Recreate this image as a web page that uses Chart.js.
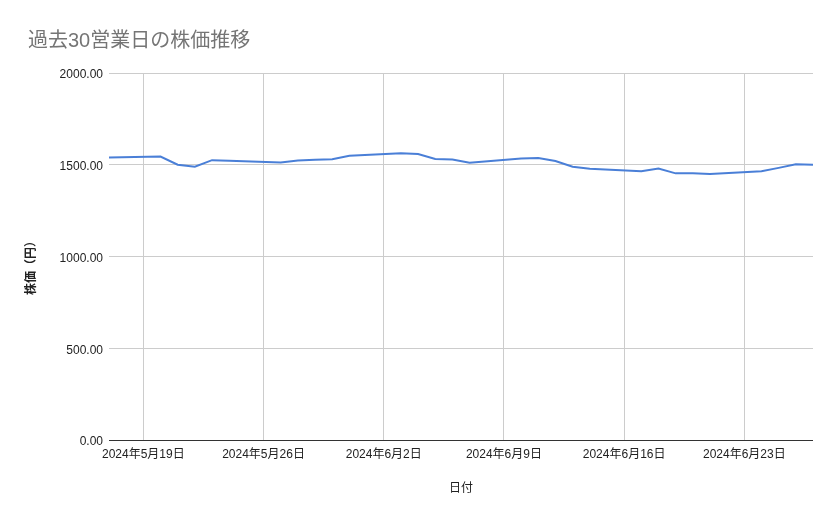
<!DOCTYPE html>
<html><head><meta charset="utf-8">
<script src="https://cdn.jsdelivr.net/npm/chart.js@4"></script>
<style>html,body{margin:0;padding:0;background:#fff;}#wrap{width:839px;height:519px;position:relative;}</style>
</head><body><div id="wrap"><canvas id="c"></canvas></div>
<script>
const chartTitle = "過去30営業日の株価推移";
const xTitle = "日付";
const yTitle = "株価（円）";
const startDate = [2024, 4, 17]; // 2024-05-17 (month 0-based)
const dates = ["2024-05-17","2024-05-20","2024-05-21","2024-05-22","2024-05-23","2024-05-24",
  "2024-05-27","2024-05-28","2024-05-29","2024-05-30","2024-05-31",
  "2024-06-03","2024-06-04","2024-06-05","2024-06-06","2024-06-07",
  "2024-06-10","2024-06-11","2024-06-12","2024-06-13","2024-06-14",
  "2024-06-17","2024-06-18","2024-06-19","2024-06-20","2024-06-21",
  "2024-06-24","2024-06-25","2024-06-26","2024-06-27"];
const prices = [1540,1545,1500,1489,1525,1522,
  1512,1523,1527,1530,1549,
  1563,1559,1531,1528,1511,
  1534,1537,1520,1489,1478,
  1464,1480,1453,1453,1449,
  1465,1483,1503,1500];
const tickDates = ["2024-05-19","2024-05-26","2024-06-02","2024-06-09","2024-06-16","2024-06-23"];
const yTicks = [0,500,1000,1500,2000];

const DAY = 86400000;
const base = Date.UTC(startDate[0], startDate[1], startDate[2]);
const toDay = s => { const [y,m,d] = s.split("-").map(Number); return (Date.UTC(y,m-1,d)-base)/DAY; };
const fmt = v => { const dt = new Date(base + v*DAY); return dt.getUTCFullYear()+"年"+(dt.getUTCMonth()+1)+"月"+dt.getUTCDate()+"日"; };
const points = dates.map((d,i)=>({x: toDay(d), y: prices[i]}));
const FONT = "'Liberation Sans', Arial, 'Noto Sans CJK JP', sans-serif";

const extraText = {
  id: 'extraText',
  afterDraw(chart){
    const ctx = chart.ctx;
    ctx.save();
    ctx.fillStyle = '#757575';
    ctx.font = "20px " + FONT;
    ctx.textBaseline = 'middle';
    ctx.textAlign = 'left';
    ctx.fillText(chartTitle, 28, 41);
    ctx.fillStyle = '#222';
    ctx.font = "bold 12px " + FONT;
    ctx.translate(32, 265);
    ctx.rotate(-Math.PI/2);
    ctx.textAlign = 'center';
    ctx.fillText(yTitle, 0, 0);
    ctx.restore();
  }
};

new Chart(document.getElementById('c'), {
  type: 'line',
  data: { datasets: [{ data: points, borderColor: '#4a7fd7', borderWidth: 2, pointRadius: 0, tension: 0, fill: false }] },
  options: {
    responsive: true, maintainAspectRatio: false, animation: false,
    layout: { padding: { top: 73, right: 26, left: 0, bottom: 0 } },
    plugins: { legend: { display: false }, tooltip: { enabled: false }, title: { display: false } },
    scales: {
      x: {
        type: 'linear', min: toDay("2024-05-17"), max: toDay("2024-06-27"),
        afterBuildTicks: s => { s.ticks = tickDates.map(d => ({ value: toDay(d) })); },
        afterFit: s => { s.height = 79; },
        ticks: { callback: v => fmt(v), color: '#222', font: { family: FONT, size: 12 }, maxRotation: 0, autoSkip: false, padding: 7 },
        grid: { color: '#cccccc', drawTicks: false, lineWidth: 1 },
        border: { display: false },
        title: { display: true, text: xTitle, color: '#222', font: { family: FONT, size: 12 }, padding: { top: 0, bottom: 23 } }
      },
      y: {
        min: 0, max: 2000,
        afterBuildTicks: s => { s.ticks = yTicks.map(v => ({ value: v })); },
        afterFit: s => { s.width = 109; },
        ticks: { callback: v => v.toFixed(2), color: '#222', font: { family: FONT, size: 12 }, padding: 6, labelOffset: 2 },
        grid: { color: ctx => ctx.tick && ctx.tick.value === 0 ? '#333333' : '#cccccc', drawTicks: false, lineWidth: 1 },
        border: { display: false }
      }
    }
  },
  plugins: [extraText]
});
</script></body></html>
